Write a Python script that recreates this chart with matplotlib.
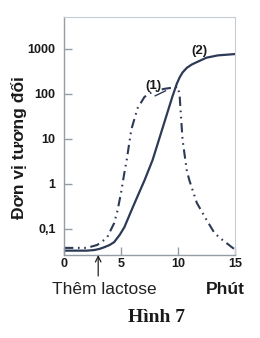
import matplotlib
matplotlib.use("Agg")
import matplotlib.pyplot as plt
import numpy as np

# Data (x: minutes, y: relative units, log scale)
x_line2 = [0, 1, 2, 2.65, 3.1, 3.5, 4.0, 4.4, 4.9, 5.3, 5.8, 6.2, 6.6, 7.06, 7.77, 8.4, 9.5, 9.9, 10.15, 10.4, 10.77, 11.2, 11.65, 12.5, 13.5, 15]
y_line2 = [0.033, 0.033, 0.033, 0.034, 0.036, 0.039, 0.044, 0.051, 0.075, 0.11, 0.22, 0.38, 0.65, 1.2, 3.4, 11, 86, 170, 235, 300, 380, 450, 510, 640, 720, 770]

x_line1 = [0, 1, 2, 2.9, 3.4, 3.8, 4.4, 4.7, 5.0, 5.3, 5.5, 5.9, 6.45, 7.06, 7.7, 8.8, 9.5, 10.0, 10.15, 10.4, 10.77, 11.0, 11.65, 12.5, 13.2, 13.9, 14.8, 15]
y_line1 = [0.038, 0.038, 0.038, 0.044, 0.054, 0.066, 0.135, 0.26, 0.63, 1.8, 3.4, 16, 48, 86, 110, 130, 138, 144, 86, 9.5, 2.0, 1.2, 0.38, 0.16, 0.081, 0.057, 0.038, 0.035]

y_ticks = [0.1, 1, 10, 100, 1000]
y_ticklabels = ["0,1", "1", "10", "100", "1000"]
x_ticks = [0, 5, 10, 15]
x_ticklabels = ["0", "5", "10", "15"]

color = "#2d3a55"
spine_col = "#949ca6"

fig = plt.figure(figsize=(2.6, 3.38), dpi=100)
ax = fig.add_axes([64/260, 1-255/338, (235-64)/260, (255-17)/338])

ax.plot(x_line2, y_line2, color=color, lw=1.6, solid_capstyle="round", solid_joinstyle="round")
ax.plot(x_line1, y_line1, color=color, lw=1.5,
        linestyle=(0, (4.5, 2.2, 0.8, 2.2, 0.8, 2.2)))

ax.set_yscale("log")
ax.set_xlim(0, 15)
ax.set_ylim(0.0264, 5130)
ax.set_yticks(y_ticks)
ax.set_yticklabels(y_ticklabels)
ax.set_xticks(x_ticks)
ax.set_xticklabels(x_ticklabels)
ax.minorticks_off()

for s in ["left", "bottom"]:
    ax.spines[s].set_color(spine_col)
    ax.spines[s].set_linewidth(1.0)
for s in ["top", "right"]:
    ax.spines[s].set_color("#c8ccd2")
    ax.spines[s].set_linewidth(0.8)

ax.tick_params(axis="both", direction="in", length=6, width=1.0, color=spine_col,
               labelsize=9)
ax.tick_params(axis="y", pad=6)
ax.tick_params(axis="x", pad=2)
for lab in ax.get_xticklabels() + ax.get_yticklabels():
    lab.set_fontweight("bold")
    lab.set_fontfamily("Liberation Sans")
    lab.set_color("#1a1a1a")

ax.text(7.85, 150, "(1)", fontsize=9.5, fontweight="bold", family="Liberation Sans",
        ha="center", va="center", color="#1a1a1a")
ax.plot([8.0, 8.9], [91, 117], color=color, lw=1.0)
ax.text(11.9, 880, "(2)", fontsize=9.5, fontweight="bold", family="Liberation Sans",
        ha="center", va="center", color="#1a1a1a")

# arrow for lactose addition
ax.annotate("", xy=(3.0, 0.0264), xycoords="data",
            xytext=(3.0, 1-276/338), textcoords=("data", "figure fraction"),
            arrowprops=dict(arrowstyle="->", color="#222222", lw=0.9,
                            shrinkA=0, shrinkB=0), annotation_clip=False)

fig.text(19/260, 1-148/338, "Đơn vị tương đối", rotation=90, ha="center", va="center",
         fontsize=12.5, fontweight="bold", family="Liberation Sans", color="#1a1a1a")
fig.text(104/260, 1-289/338, "Thêm lactose", ha="center", va="center",
         fontsize=12.5, family="Liberation Sans", color="#222222")
fig.text(225/260, 1-289/338, "Phút", ha="center", va="center",
         fontsize=12.5, fontweight="bold", family="Liberation Sans", color="#1a1a1a")
fig.text(157/260, 1-318/338, "Hình 7", ha="center", va="center",
         fontsize=14, fontweight="bold", family="Liberation Serif", color="#1a1a1a")

fig.savefig("out.png", dpi=100)
